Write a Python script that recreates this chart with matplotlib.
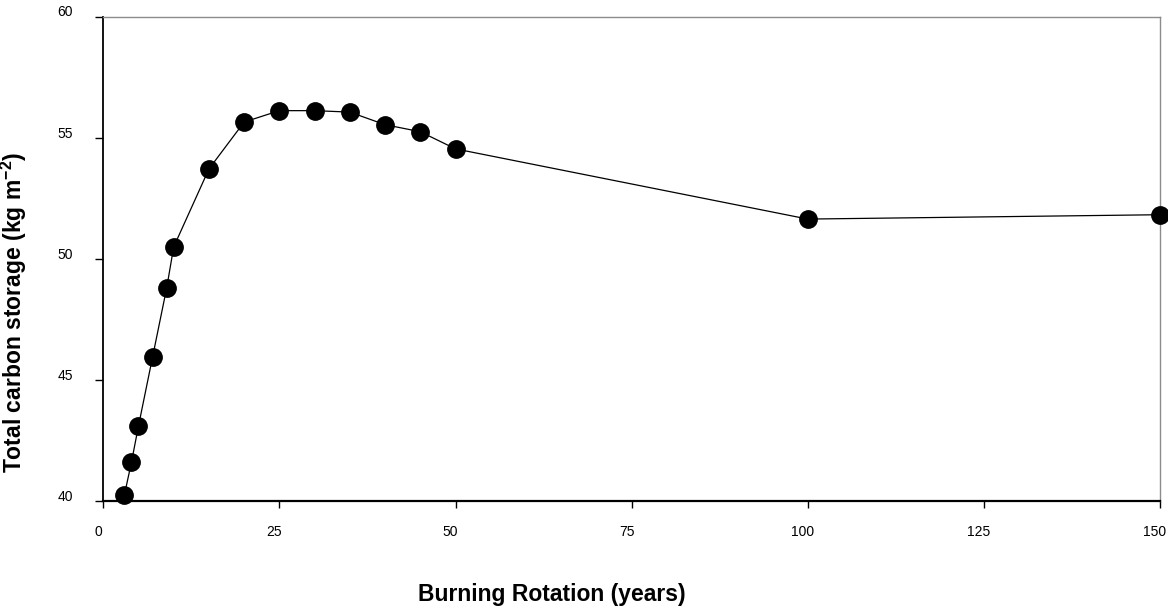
"""Total carbon storage against burning rotation length."""
import matplotlib
matplotlib.use("Agg")
import matplotlib.pyplot as plt
from matplotlib.transforms import ScaledTranslation

plt.rcParams['font.family'] = ['Liberation Sans', 'DejaVu Sans']
plt.rcParams['mathtext.fontset'] = 'custom'
plt.rcParams['mathtext.rm'] = 'Liberation Sans'
plt.rcParams['mathtext.bf'] = 'Liberation Sans:bold'

rotation_years = [3, 4, 5, 7, 9, 10, 15, 20, 25, 30, 35, 40, 45, 50, 100, 150]
carbon_storage = [40.25, 41.6, 43.1, 45.95, 48.8, 50.5, 53.72, 55.66,
                  56.13, 56.13, 56.07, 55.55, 55.26, 54.55, 51.65, 51.83]

x_ticks = [0, 25, 50, 75, 100, 125, 150]
y_ticks = [40, 45, 50, 55, 60]

fig = plt.figure(figsize=(11.68, 6.07), dpi=100)
ax = fig.add_axes([0.0884, 0.1746, 0.9048, 0.7974])

ax.plot(rotation_years, carbon_storage, color='black', linewidth=0.9,
        marker='o', markersize=12.5, markerfacecolor='black',
        markeredgecolor='black', clip_on=False, zorder=3)

ax.set_xlim(0, 150)
ax.set_ylim(40, 60)
ax.set_xticks(x_ticks)
ax.set_yticks(y_ticks)

for side in ('top', 'right'):
    ax.spines[side].set_color('#8c8c8c')
    ax.spines[side].set_linewidth(1.0)
ax.spines['left'].set_linewidth(1.3)
ax.spines['bottom'].set_linewidth(1.6)

ax.tick_params(axis='y', direction='out', length=6, width=1, pad=16,
               labelsize=10)
ax.tick_params(axis='x', direction='out', length=5, width=1, pad=12,
               labelsize=10)

# labels in the original sit slightly off their ticks
for lab in ax.get_yticklabels():
    lab.set_transform(lab.get_transform() +
                      ScaledTranslation(0, 6 / 100, fig.dpi_scale_trans))
for lab in ax.get_xticklabels():
    lab.set_transform(lab.get_transform() +
                      ScaledTranslation(-5 / 100, 0, fig.dpi_scale_trans))

ax.set_xlabel('Burning Rotation (years)', fontsize=16.5, fontweight='bold')
ax.set_ylabel(r'Total carbon storage (kg m$^{\mathbf{-2}}$)', fontsize=16.5,
              fontweight='bold')
ax.xaxis.set_label_coords(0.424, -0.169)
ax.yaxis.set_label_coords(-0.0705, 0.39)

fig.savefig('out.png', dpi=100)
